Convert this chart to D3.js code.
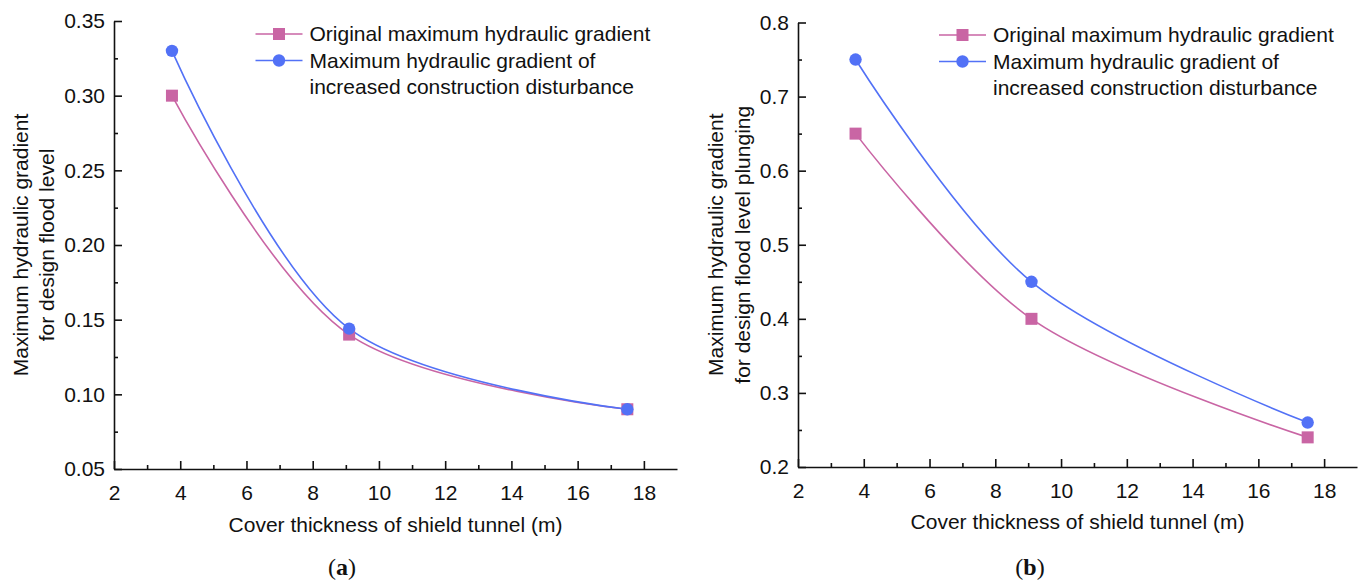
<!DOCTYPE html>
<html>
<head>
<meta charset="utf-8">
<script src="https://cdn.jsdelivr.net/npm/d3@7"></script>
<style>
  html, body { margin: 0; padding: 0; background: #ffffff; }
  svg { display: block; }
  text { font-family: "Liberation Sans", Arial, sans-serif; fill: #111; }
</style>
</head>
<body>
<svg id="fig" width="1359" height="585"></svg>
<script>
// Cover thickness of the shield tunnel (m) at the three computed sections
const thickness = [3.75, 9.1, 17.5];

// Panel (a): maximum hydraulic gradient for design flood level
const originalA = [0.30, 0.14, 0.09];
const disturbedA = [0.33, 0.144, 0.09];

// Panel (b): maximum hydraulic gradient for design flood level plunging
const originalB = [0.65, 0.40, 0.24];
const disturbedB = [0.75, 0.45, 0.26];

// Axis ticks
const xMajorTicks = [2, 4, 6, 8, 10, 12, 14, 16, 18];
const xMinorTicks = [3, 5, 7, 9, 11, 13, 15, 17];
const yMajorTicksA = [0.05, 0.10, 0.15, 0.20, 0.25, 0.30, 0.35];
const yMinorTicksA = [0.075, 0.125, 0.175, 0.225, 0.275, 0.325];
const yMajorTicksB = [0.2, 0.3, 0.4, 0.5, 0.6, 0.7, 0.8];
const yMinorTicksB = [0.25, 0.35, 0.45, 0.55, 0.65, 0.75];

// Text
const seriesNames = ["Original maximum hydraulic gradient",
                     ["Maximum hydraulic gradient of", "increased construction disturbance"]];
const xTitle = "Cover thickness of shield tunnel (m)";
const yTitleA = ["Maximum hydraulic gradient", "for design flood level"];
const yTitleB = ["Maximum hydraulic gradient", "for design flood level plunging"];

const PINK = "#c965a4";
const BLUE = "#5271f6";
const FONT = 21;

const svg = d3.select("#fig");

function drawPanel(p) {
  const g = svg.append("g");
  const x = d3.scaleLinear().domain([2, 19]).range([p.left, p.right]);
  const y = d3.scaleLinear().domain(p.yDomain).range([p.bottom, p.top]);

  // x axis: line, inward ticks, labels
  const xAxis = d3.axisBottom(x).tickValues(xMajorTicks).tickSize(-8).tickPadding(16).tickSizeOuter(0);
  const gx = g.append("g").attr("transform", `translate(0,${p.bottom})`).call(xAxis);
  gx.selectAll("text").attr("font-size", FONT).attr("font-family", "Liberation Sans, Arial, sans-serif")
    .attr("fill", "#111").attr("dy", "0.71em");
  g.append("g").attr("transform", `translate(0,${p.bottom})`)
    .call(d3.axisBottom(x).tickValues(xMinorTicks).tickSize(-4).tickFormat("").tickSizeOuter(0))
    .select(".domain").remove();

  // y axis
  const yAxis = d3.axisLeft(y).tickValues(p.yMajor).tickSize(-8).tickPadding(9)
    .tickFormat(d3.format(p.yFormat)).tickSizeOuter(0);
  const gy = g.append("g").attr("transform", `translate(${p.left},0)`).call(yAxis);
  gy.selectAll("text").attr("font-size", FONT).attr("font-family", "Liberation Sans, Arial, sans-serif")
    .attr("fill", "#111");
  g.append("g").attr("transform", `translate(${p.left},0)`)
    .call(d3.axisLeft(y).tickValues(p.yMinor).tickSize(-4).tickFormat("").tickSizeOuter(0))
    .select(".domain").remove();

  g.selectAll(".domain, .tick line").attr("stroke", "#111").attr("stroke-width", 1.6);

  // axis titles
  g.append("text").attr("x", (p.left + p.right) / 2).attr("y", p.xTitleY)
    .attr("text-anchor", "middle").attr("dy", "0.35em").attr("font-size", FONT).text(xTitle);
  const yMid = (p.top + p.bottom) / 2;
  p.yTitle.forEach((line, i) => {
    g.append("text")
      .attr("transform", `translate(${p.yTitleX[i]},${yMid}) rotate(-90)`)
      .attr("text-anchor", "middle").attr("dy", "0.35em").attr("font-size", FONT).text(line);
  });

  // curves and markers
  const line = d3.line().x(d => x(d[0])).y(d => y(d[1])).curve(d3.curveCatmullRom.alpha(0.5));
  const series = [
    { values: p.original, color: PINK, shape: "square" },
    { values: p.disturbed, color: BLUE, shape: "circle" }
  ];
  series.forEach(s => {
    const pts = thickness.map((t, i) => [t, s.values[i]]);
    g.append("path").datum(pts).attr("d", line)
      .attr("fill", "none").attr("stroke", s.color).attr("stroke-width", 1.6);
  });
  series.forEach(s => {
    const pts = thickness.map((t, i) => [t, s.values[i]]);
    if (s.shape === "square") {
      g.selectAll(null).data(pts).enter().append("rect")
        .attr("x", d => x(d[0]) - 6).attr("y", d => y(d[1]) - 6)
        .attr("width", 12).attr("height", 12).attr("fill", s.color);
    } else {
      g.selectAll(null).data(pts).enter().append("circle")
        .attr("cx", d => x(d[0])).attr("cy", d => y(d[1])).attr("r", 6.2).attr("fill", s.color);
    }
  });

  // legend
  const lg = g.append("g").attr("transform", `translate(${p.legendX},${p.legendY})`);
  const rowGap = 26.5;
  [[PINK, "square", [seriesNames[0]]], [BLUE, "circle", seriesNames[1]]].forEach((item, i) => {
    const yy = i * rowGap;
    lg.append("line").attr("x1", 0).attr("x2", 47).attr("y1", yy).attr("y2", yy)
      .attr("stroke", item[0]).attr("stroke-width", 1.6);
    if (item[1] === "square") {
      lg.append("rect").attr("x", 23.5 - 6).attr("y", yy - 6).attr("width", 12).attr("height", 12).attr("fill", item[0]);
    } else {
      lg.append("circle").attr("cx", 23.5).attr("cy", yy).attr("r", 6.2).attr("fill", item[0]);
    }
    item[2].forEach((txt, j) => {
      lg.append("text").attr("x", 54).attr("y", yy + j * rowGap).attr("dy", "0.35em")
        .attr("font-size", FONT).text(txt);
    });
  });

  // subfigure caption
  const cap = g.append("text").attr("x", p.captionX).attr("y", 567).attr("dy", "0.35em")
    .attr("text-anchor", "middle").attr("font-size", 24)
    .style("font-family", "'Liberation Serif', 'DejaVu Serif', serif");
  cap.append("tspan").text("(");
  cap.append("tspan").attr("font-weight", "bold").text(p.tag);
  cap.append("tspan").text(")");
}

drawPanel({
  left: 114, right: 677, top: 21, bottom: 469,
  yDomain: [0.05, 0.35], yMajor: yMajorTicksA, yMinor: yMinorTicksA, yFormat: ".2f",
  original: originalA, disturbed: disturbedA,
  yTitle: yTitleA, yTitleX: [21, 47], xTitleY: 525,
  legendX: 255.5, legendY: 34, captionX: 342, tag: "a"
});

drawPanel({
  left: 798, right: 1357, top: 22.5, bottom: 467,
  yDomain: [0.2, 0.8], yMajor: yMajorTicksB, yMinor: yMinorTicksB, yFormat: ".1f",
  original: originalB, disturbed: disturbedB,
  yTitle: yTitleB, yTitleX: [716, 743], xTitleY: 522,
  legendX: 939, legendY: 35, captionX: 1030, tag: "b"
});
</script>
</body>
</html>
